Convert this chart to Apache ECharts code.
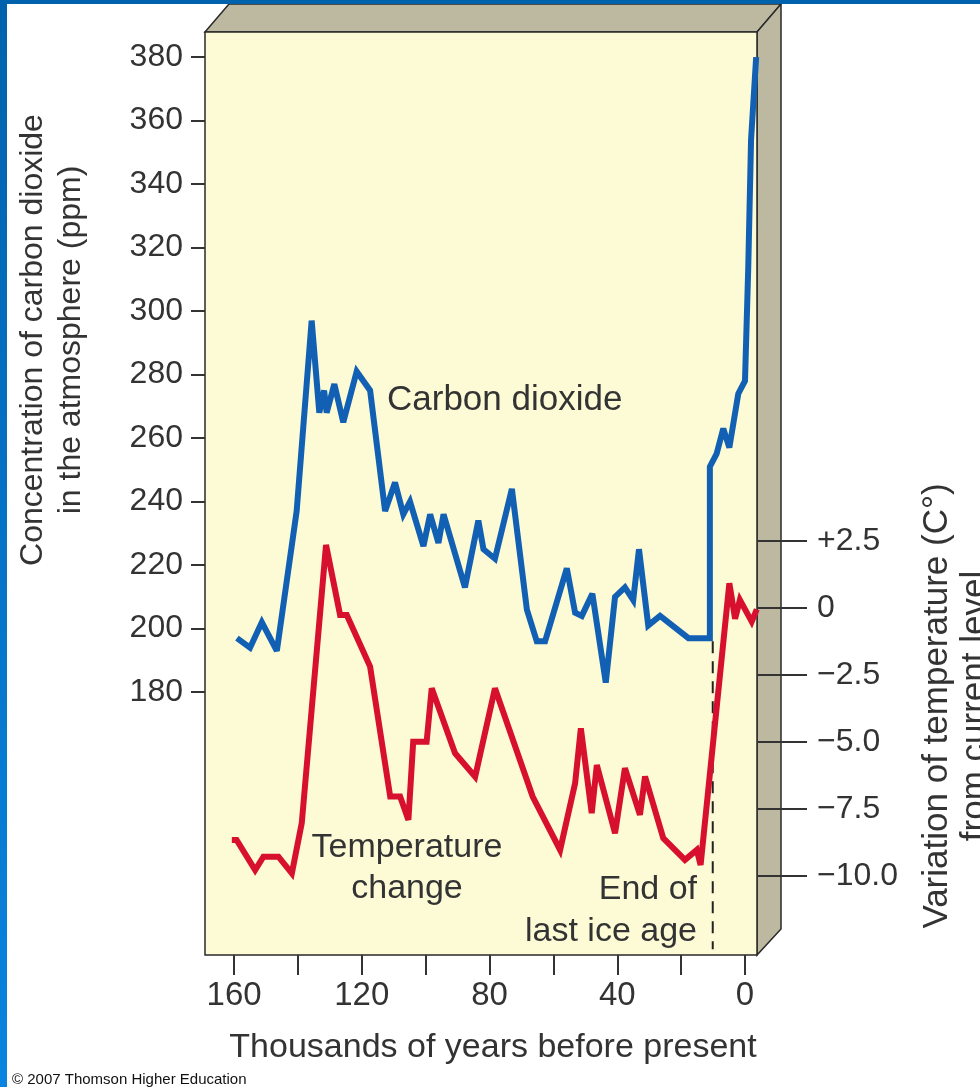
<!DOCTYPE html>
<html>
<head>
<meta charset="utf-8">
<script src="https://cdn.jsdelivr.net/npm/echarts@6/dist/echarts.min.js"></script>
<style>
  html, body { margin: 0; padding: 0; background: #ffffff; }
  #chart { width: 980px; height: 1087px; }
</style>
</head>
<body>
<div id="chart"></div>
<script>
// thousands of years before present / ppm
var co2Years = [159.1, 155, 151.3, 146.6, 140.4, 135.7, 133.3, 131.8, 131, 128.6, 125.8, 121.6, 117.4,
  112.7, 109.6, 107, 104.9, 100.7, 98.6, 96, 94.4, 87.7, 83.5, 81.9, 78.3, 73, 68.3, 65.2, 62.6,
  55.8, 53.2, 51.1, 47.8, 43.6, 40.7, 37.6, 35, 33.2, 30.3, 26.6, 17.7, 11, 11, 8.9, 6.8, 4.9,
  2.1, 0, -1.0, -1.9, -3.5];
var co2Ppm = [197, 194, 202, 193, 237, 297, 268, 275, 268, 277, 265, 281, 275,
  237, 246, 236, 240, 226, 236, 227, 236, 213, 234, 225, 222, 244, 206, 196, 196,
  219, 205, 204, 211, 183, 210, 213, 209, 225, 201, 204, 197, 197, 251, 255, 263, 257,
  274, 278, 313, 354, 380];

// temperature change vs current level (C)
var tempYears = [160.7, 159.2, 153.4, 150.8, 146.1, 141.9, 138.8, 131.2, 126.8, 124.7, 117.4, 111.1,
  108, 105.4, 103.9, 99.7, 98.1, 90.8, 84.5, 78.3, 66.5, 57.9, 53.2, 51.4, 48, 46.4, 40.7,
  37.6, 32.9, 31.3, 25.6, 18.8, 15.1, 13.9, 4.9, 3.1, 1.6, -2.1, -3.7];
var tempVals = [-8.66, -8.66, -9.78, -9.28, -9.28, -9.9, -8.03, 2.35, -0.26, -0.26, -2.19, -7.04,
  -7.04, -7.91, -4.99, -4.99, -3.0, -5.42, -6.3, -3.0, -7.04, -9.03, -6.54, -4.49, -7.66, -5.86, -8.41,
  -5.98, -7.72, -6.29, -8.59, -9.4, -9.03, -9.59, 0.92, -0.4, 0.3, -0.51, -0.05];

// end of last ice age marker
var iceAgeYears = [10.1, 10.1];
var iceAgePpm = [196, 99];

var yearTicks = [0, 20, 40, 60, 80, 100, 120, 140, 160];
var yearLabels = [0, 40, 80, 120, 160];
var co2Ticks = [180, 200, 220, 240, 260, 280, 300, 320, 340, 360, 380];
var tempTicks = [2.5, 0, -2.5, -5, -7.5, -10];
var tempTickLabels = ['+2.5', '0', '\u22122.5', '\u22125.0', '\u22127.5', '\u221210.0'];

function pairs(xs, ys) {
  return xs.map(function (x, i) { return [x, ys[i]]; });
}

var font = "'Liberation Sans', Arial, sans-serif";
var ink = '#333333';
var face = '#bdb9a0';
var edge = '#2a2a2a';

var chart = echarts.init(document.getElementById('chart'));
chart.setOption({
  animation: false,
  backgroundColor: '#ffffff',
  textStyle: { fontFamily: font },
  grid: {
    left: 205, right: 223, top: 32, bottom: 132,
    show: true,
    backgroundColor: '#fdfad6',
    borderColor: edge,
    borderWidth: 1.5
  },
  xAxis: {
    type: 'value',
    inverse: true,
    min: -3.76,
    max: 169.1,
    axisLine: { show: false, onZero: false },
    splitLine: { show: false },
    axisTick: { customValues: yearTicks, length: 20, lineStyle: { color: ink, width: 2 } },
    axisLabel: { customValues: yearLabels, margin: 24, fontSize: 33, color: ink, fontFamily: font }
  },
  yAxis: [
    {
      type: 'value',
      position: 'left',
      min: 97.2,
      max: 387.9,
      axisLine: { show: false, onZero: false },
      splitLine: { show: false },
      axisTick: { customValues: co2Ticks, length: 14, lineStyle: { color: ink, width: 2 } },
      axisLabel: { customValues: co2Ticks, margin: 22, fontSize: 32, color: ink, fontFamily: font }
    },
    {
      type: 'value',
      position: 'right',
      min: -12.95,
      max: 21.49,
      z: 10,
      axisLine: { show: false, onZero: false },
      splitLine: { show: false },
      axisTick: { customValues: tempTicks, length: 50, lineStyle: { color: ink, width: 2 } },
      axisLabel: {
        customValues: tempTicks, margin: 60, fontSize: 32, color: ink, fontFamily: font,
        formatter: function (v) {
          var i = tempTicks.indexOf(v);
          return i >= 0 ? tempTickLabels[i] : '';
        }
      }
    }
  ],
  series: [
    {
      name: 'Temperature change',
      type: 'line',
      yAxisIndex: 1,
      symbol: 'none',
      data: pairs(tempYears, tempVals),
      lineStyle: { color: '#d6102e', width: 6, join: 'miter', miterLimit: 3 },
      z: 3
    },
    {
      name: 'Carbon dioxide',
      type: 'line',
      yAxisIndex: 0,
      symbol: 'none',
      data: pairs(co2Years, co2Ppm),
      lineStyle: { color: '#1260b4', width: 6, join: 'miter', miterLimit: 3 },
      z: 4
    },
    {
      name: 'End of last ice age',
      type: 'line',
      yAxisIndex: 0,
      symbol: 'none',
      data: pairs(iceAgeYears, iceAgePpm),
      lineStyle: { color: '#222222', width: 2, type: [12, 8] },
      z: 2
    }
  ],
  graphic: [
    // blue frame of the slide
    { type: 'rect', shape: { x: 0, y: 0, width: 980, height: 4 }, style: { fill: '#0062ad' }, silent: true },
    {
      type: 'rect', shape: { x: 0, y: 0, width: 7, height: 1087 }, silent: true,
      style: {
        fill: new echarts.graphic.LinearGradient(0, 0, 0, 1, [
          { offset: 0, color: '#0062ad' }, { offset: 1, color: '#0a84e0' }
        ])
      }
    },
    // 3D box faces
    {
      type: 'polygon', z: -1, silent: true,
      shape: { points: [[205, 32], [229, 4], [781, 4], [757, 32]] },
      style: { fill: face, stroke: edge, lineWidth: 1.5 }
    },
    {
      type: 'polygon', z: -1, silent: true,
      shape: { points: [[757, 32], [781, 4], [781, 929], [757, 955]] },
      style: { fill: face, stroke: edge, lineWidth: 1.5 }
    },
    // axis names
    {
      type: 'text', x: 52, y: 340, rotation: Math.PI / 2, silent: true,
      style: {
        text: 'Concentration of carbon dioxide\nin the atmosphere (ppm)',
        font: '32px ' + font, fill: ink, align: 'center', verticalAlign: 'middle', lineHeight: 38
      }
    },
    {
      type: 'text', x: 956, y: 706, rotation: Math.PI / 2, silent: true,
      style: {
        text: 'Variation of temperature (C\u00b0)\nfrom current level',
        font: '35px ' + font, fill: ink, align: 'center', verticalAlign: 'middle', lineHeight: 38
      }
    },
    {
      type: 'text', x: 493, y: 1048, silent: true,
      style: {
        text: 'Thousands of years before present',
        font: '34px ' + font, fill: ink, align: 'center', verticalAlign: 'middle'
      }
    },
    // annotations
    {
      type: 'text', x: 387, y: 400, silent: true,
      style: { text: 'Carbon dioxide', font: '35px ' + font, fill: ink, align: 'left', verticalAlign: 'middle' }
    },
    {
      type: 'text', x: 407, y: 868, silent: true,
      style: {
        text: 'Temperature\nchange', font: '34px ' + font, fill: ink,
        align: 'center', verticalAlign: 'middle', lineHeight: 41
      }
    },
    {
      type: 'text', x: 697, y: 911, silent: true,
      style: {
        text: 'End of\nlast ice age', font: '34px ' + font, fill: ink,
        align: 'right', verticalAlign: 'middle', lineHeight: 42
      }
    },
    {
      type: 'text', x: 12, y: 1080, silent: true,
      style: { text: '\u00a9 2007 Thomson Higher Education', font: '15px ' + font, fill: '#111111', align: 'left', verticalAlign: 'middle' }
    }
  ]
});
</script>
</body>
</html>
